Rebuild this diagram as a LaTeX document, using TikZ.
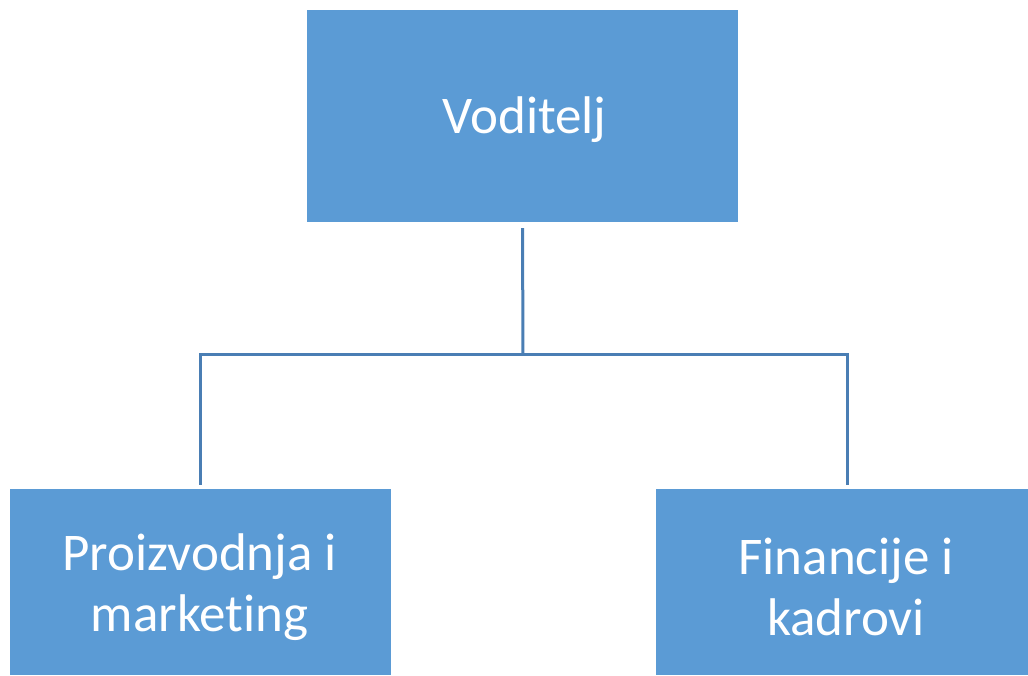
\documentclass[tikz,border=0pt]{standalone}
\usepackage{fontspec}
\setmainfont{Carlito}[Ligatures=CommonOff]
\definecolor{boxfill}{HTML}{5B9BD5}
\definecolor{linecol}{HTML}{4A7EB4}
\begin{document}
\begin{tikzpicture}[x=1pt,y=1pt,
  orgbox/.style={fill=boxfill, draw=none, inner sep=0pt},
  orgtext/.style={text=white, align=center, inner sep=0pt,
    font=\fontsize{53}{61}\selectfont},
  conn/.style={draw=linecol, line width=3pt}]
\useasboundingbox (0,0) rectangle (1028,675);
\node[orgbox, minimum width=431pt, minimum height=212pt] (top) at (522.5,559) {};
\node[orgbox, minimum width=381pt, minimum height=186pt] (left) at (200.5,93) {};
\node[orgbox, minimum width=372pt, minimum height=186pt] (right) at (842,93) {};
\node[orgtext] (toptext) at ([xshift=2pt,yshift=-4pt]top.center) {Voditelj};
\node[orgtext] (lefttext) at ([xshift=-1pt,yshift=-5pt]left.center) {Proizvodnja i\\marketing};
\node[orgtext] (righttext) at ([xshift=4pt,yshift=-5pt]right.center) {Financije i\\kadrovi};
\coordinate (hub) at (523,320);
\draw[conn] ([yshift=-6pt]top.south) -- (hub);
\draw[conn] (hub) -| ([yshift=4pt]left.north);
\draw[conn] (hub) -| ([xshift=5pt,yshift=4pt]right.north);
\end{tikzpicture}
\end{document}
